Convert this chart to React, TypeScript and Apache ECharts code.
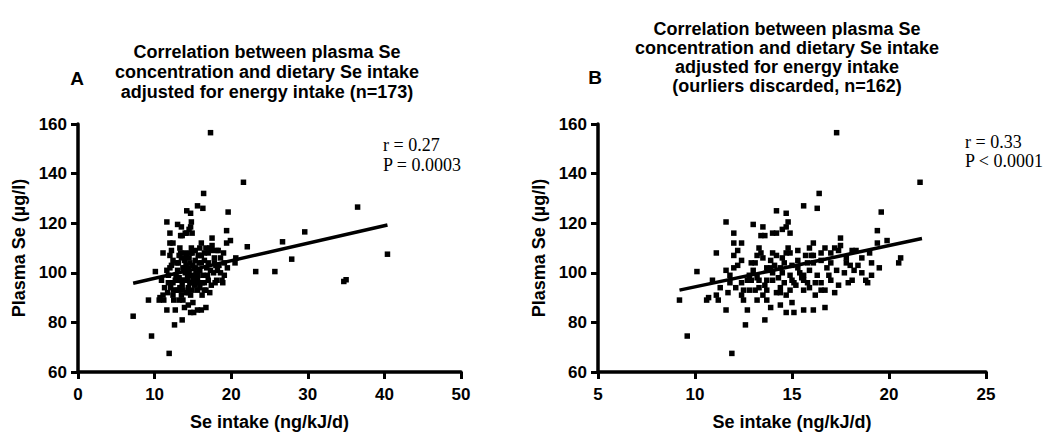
import React, { useEffect, useRef } from "react";
import * as echarts from "echarts";

// Panel B points (outliers discarded, n=162): Se intake (ng/kJ/d), plasma Se (µg/l)
const intakeB = [
  17.3, 21.6, 16.4, 15.6, 16.3, 14.2, 14.7, 19.6, 11.6, 13.0, 13.5, 14.8, 14.7, 14.5, 12.0, 14.0, 14.2, 14.9, 19.4, 13.4,
  13.6, 12.0, 12.4, 16.1, 17.5, 17.5, 19.9, 19.4, 11.1, 12.0, 12.2, 13.3, 13.4, 14.0, 14.2, 14.7, 14.9, 15.3, 15.7, 16.1,
  16.5, 16.7, 17.0, 17.2, 17.4, 18.1, 18.3, 19.0, 20.6, 20.5, 10.1, 12.2, 12.9, 13.1, 13.9, 14.5, 14.6, 15.3, 15.8, 16.1,
  16.5, 17.0, 17.8, 18.0, 18.4, 19.1, 11.6, 11.8, 13.7, 13.9, 13.8, 14.0, 14.4, 14.5, 14.9, 15.4, 15.6, 16.8, 17.7, 18.2,
  12.8, 12.9, 13.2, 13.3, 13.7, 14.0, 14.3, 15.0, 15.5, 15.6, 12.4, 11.8, 12.7, 14.4, 15.1, 15.2, 16.2, 17.0, 17.9, 18.1,
  18.8, 19.1, 18.9, 11.7, 12.5, 12.8, 13.1, 13.3, 13.7, 14.2, 14.4, 14.7, 15.6, 15.9, 16.5, 16.7, 9.2, 10.6, 10.7, 11.1,
  11.2, 12.4, 12.5, 13.2, 13.5, 13.7, 14.4, 11.6, 12.7, 14.7, 15.1, 15.6, 16.1, 16.7, 12.6, 13.6, 9.6, 11.9, 13.5, 15.0,
  15.9, 16.3, 17.3, 13.0, 14.6, 15.8, 16.9, 12.4, 14.8, 15.9, 17.8, 18.6, 13.6, 14.9, 16.2, 12.1, 17.4, 15.3, 14.1, 16.0,
  13.2, 18.6, 19.5, 12.0, 15.0, 13.9, 17.2, 16.5, 11.3, 10.9
];
const plasmaB = [
  156.5, 136.5, 132, 127, 126, 125, 124, 124.5, 120.5, 119.5, 118.5, 120.5, 118.5, 117.5, 116, 116, 116, 116, 117, 115,
  115, 112, 112, 112, 114, 111, 113, 112, 108, 107, 109, 110, 108, 108, 107, 108, 108, 109, 107, 107,
  108, 110, 108, 110, 109, 109, 109, 108, 106, 104, 100.5, 103, 104, 104, 105, 106, 104, 105, 104, 104,
  105, 104, 104, 103, 103, 104, 101, 99, 102, 102, 101, 100, 102, 100, 99, 100, 99, 102, 100, 101,
  99, 97, 98, 97, 97, 97, 98, 97, 98, 97, 96, 96, 97, 94, 96, 95, 96, 97, 96, 97,
  97, 99, 96, 92, 93, 93, 93, 94, 93, 92, 92, 91, 93, 94, 93, 93, 89, 89, 90, 91,
  89, 91, 89, 89, 91, 89, 87, 85, 85, 84, 84, 85, 85, 86, 79, 81, 74.5, 67.5, 106, 103,
  101, 99, 101, 101, 96, 96, 99, 105, 110, 110, 106, 106, 95, 93, 91, 94, 95, 102, 103, 107,
  107, 100, 102, 102, 88, 86, 92, 96, 94, 97
];

// Points present only in panel A (n=173)
const outlierIntake = [7.2, 22.1, 23.2, 25.7, 26.7, 27.9, 29.6, 34.7, 35.0, 36.5, 40.4];
const outlierPlasma = [82.5, 110.5, 100.5, 100.5, 112.5, 105.5, 116.5, 96.5, 97.2, 126.5, 107.5];

// Regression line end points
const fitA = [[7.2, 95.8], [40.4, 119.3]];
const fitB = [[9.2, 93.0], [21.7, 113.8]];

const titleA = "Correlation between plasma Se\nconcentration and dietary Se intake\nadjusted for energy intake (n=173)";
const titleB = "Correlation between plasma Se\nconcentration and dietary Se intake\nadjusted for energy intake\n(ourliers discarded, n=162)";
const statsA = "r = 0.27\nP = 0.0003";
const statsB = "r = 0.33\nP < 0.0001";
const xName = "Se intake (ng/kJ/d)";
const yName = "Plasma Se (µg/l)";

const SANS = '"Liberation Sans", Arial, sans-serif';
const SERIF = '"Liberation Serif", "Times New Roman", serif';

function axisBase(gridIndex: number, labelMargin: number) {
  return {
    gridIndex,
    splitLine: { show: false },
    axisLine: { show: true, onZero: false, lineStyle: { color: "#000", width: 3.5 } },
    axisTick: { show: true, inside: false, length: 7, lineStyle: { color: "#000", width: 3 } },
    axisLabel: { color: "#000", fontWeight: "bold", fontSize: 17, fontFamily: SANS, margin: labelMargin },
    nameLocation: "middle",
    nameTextStyle: { color: "#000", fontWeight: "bold", fontSize: 18, fontFamily: SANS },
  };
}

export default function App() {
  const ref = useRef<HTMLDivElement>(null);
  useEffect(() => {
    document.body.style.margin = "0";
    const chart = echarts.init(ref.current!, null, { renderer: "svg" });
    const dataB = intakeB.map((x, i) => [x, plasmaB[i]]);
    const dataA = dataB.concat(outlierIntake.map((x, i) => [x, outlierPlasma[i]]));
    const dot = { symbol: "rect", symbolSize: 5.5, itemStyle: { color: "#000", opacity: 1 } };
    const fitLine = { showSymbol: false, lineStyle: { color: "#000", width: 3.5 } };
    chart.setOption({
      animation: false,
      backgroundColor: "#fff",
      grid: [
        { left: 78, top: 124, width: 383, height: 256 },
        { left: 598, top: 124, width: 388, height: 255 },
      ],
      xAxis: [
        { ...axisBase(0, 14), type: "value", min: 0, max: 50, interval: 10, name: xName, nameGap: 41 },
        { ...axisBase(1, 14), type: "value", min: 5, max: 25, interval: 5, name: xName, nameGap: 41 },
      ],
      yAxis: [
        { ...axisBase(0, 11), type: "value", min: 60, max: 160, interval: 20, name: yName, nameGap: 50 },
        { ...axisBase(1, 11), type: "value", min: 60, max: 160, interval: 20, name: yName, nameGap: 50 },
      ],
      series: [
        { type: "scatter", xAxisIndex: 0, yAxisIndex: 0, data: dataA, ...dot },
        { type: "line", xAxisIndex: 0, yAxisIndex: 0, data: fitA, ...fitLine },
        { type: "scatter", xAxisIndex: 1, yAxisIndex: 1, data: dataB, ...dot },
        { type: "line", xAxisIndex: 1, yAxisIndex: 1, data: fitB, ...fitLine },
      ],
      graphic: [
        { type: "text", x: 267, y: 41.5, style: { text: titleA, fill: "#000", font: `bold 18px ${SANS}`, align: "center", verticalAlign: "top", lineHeight: 20 } },
        { type: "text", x: 787, y: 19, style: { text: titleB, fill: "#000", font: `bold 18px ${SANS}`, align: "center", verticalAlign: "top", lineHeight: 19 } },
        { type: "text", x: 77, y: 78, style: { text: "A", fill: "#000", font: `bold 19px ${SANS}`, align: "center", verticalAlign: "middle" } },
        { type: "text", x: 595, y: 77, style: { text: "B", fill: "#000", font: `bold 19px ${SANS}`, align: "center", verticalAlign: "middle" } },
        { type: "text", x: 383, y: 135, style: { text: statsA, fill: "#000", font: `18px ${SERIF}`, align: "left", verticalAlign: "top", lineHeight: 20 } },
        { type: "text", x: 965, y: 132, style: { text: statsB, fill: "#000", font: `18px ${SERIF}`, align: "left", verticalAlign: "top", lineHeight: 19 } },
      ],
    });
    return () => chart.dispose();
  }, []);
  return <div ref={ref} style={{ width: 1045, height: 436 }} />;
}
